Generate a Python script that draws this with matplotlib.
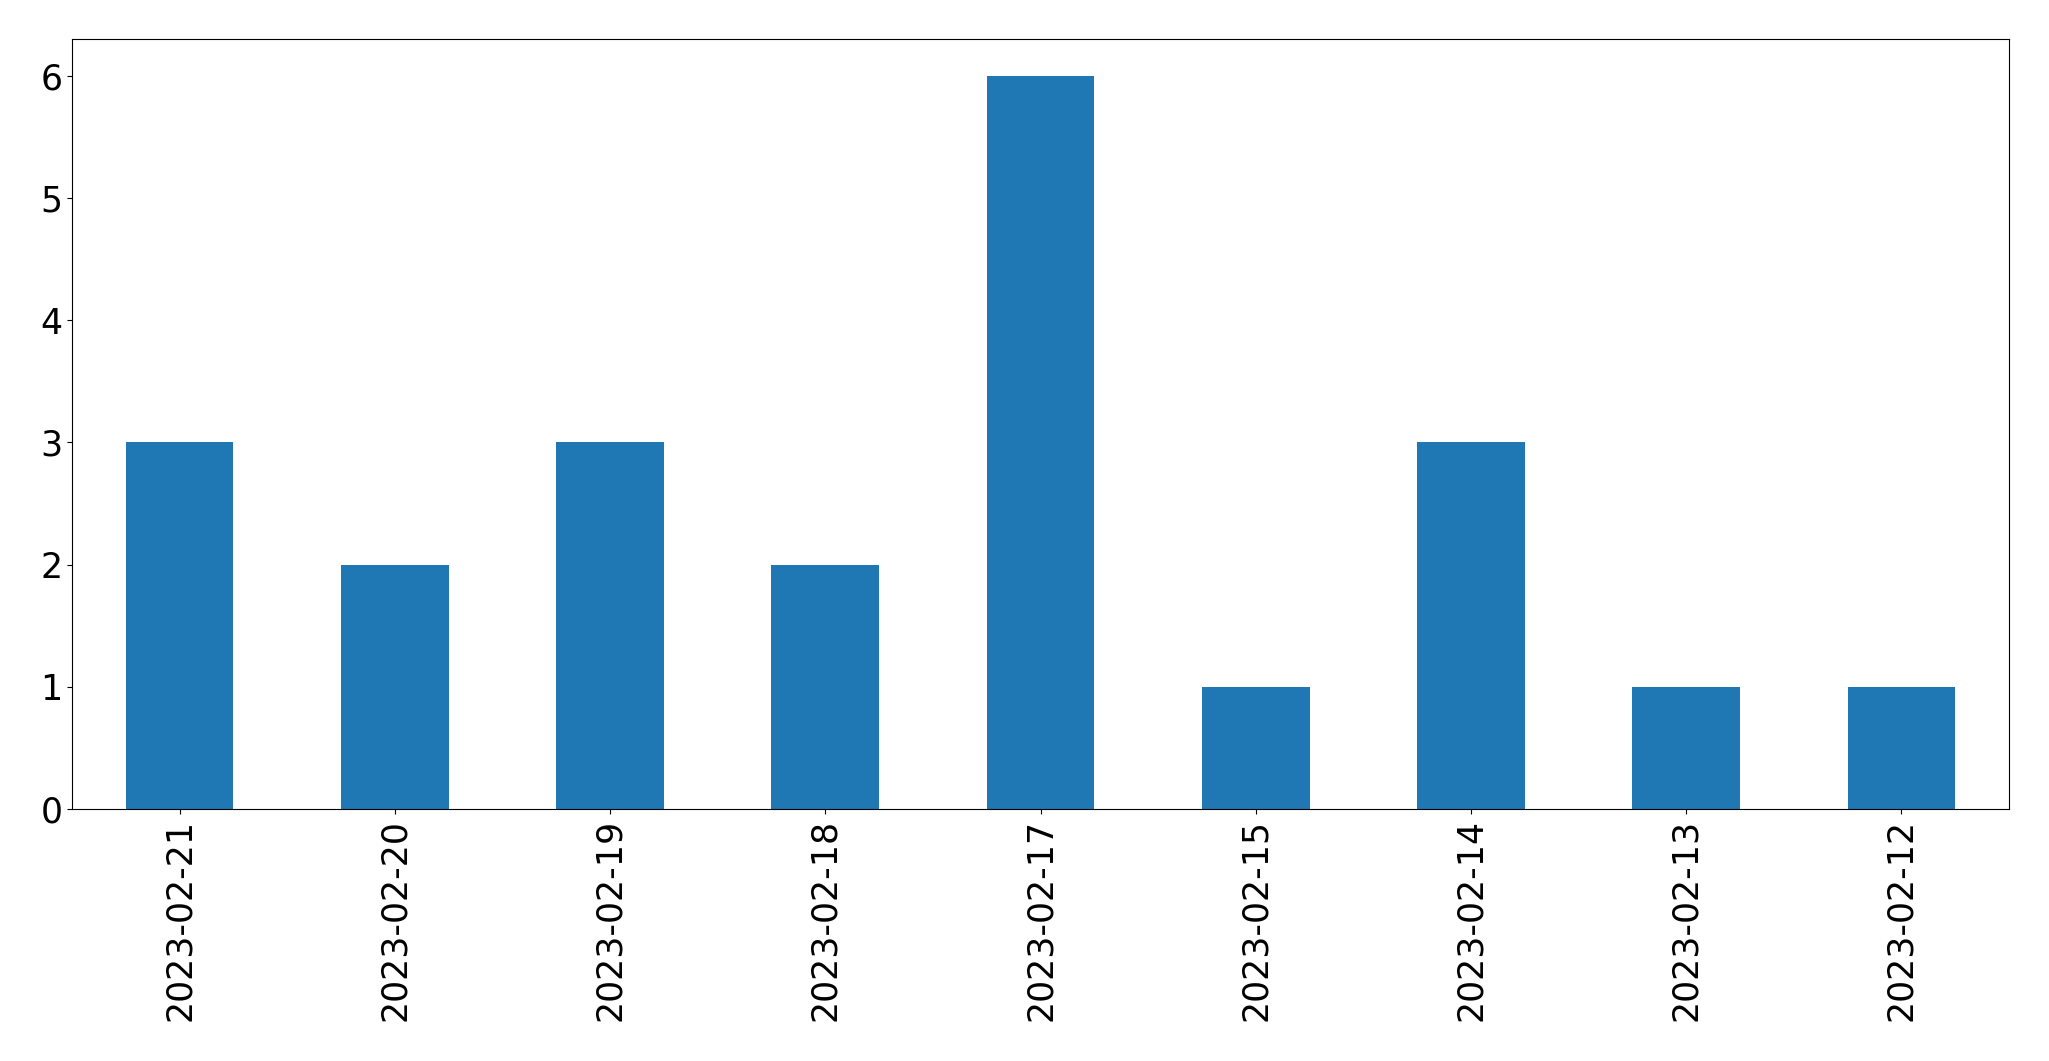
import matplotlib
matplotlib.use('Agg')
import matplotlib.pyplot as plt
import pandas as pd

# counts per day, newest first (as in the source chart)
dates = ['2023-02-21', '2023-02-20', '2023-02-19', '2023-02-18', '2023-02-17',
         '2023-02-15', '2023-02-14', '2023-02-13', '2023-02-12']
counts = [3, 2, 3, 2, 6, 1, 3, 1, 1]

series = pd.Series(counts, index=dates)

fig = plt.figure(figsize=(20.49, 10.61), dpi=100)
ax = fig.add_axes([72 / 2049, 1 - 809 / 1061, 1937 / 2049, 770 / 1061])

series.plot.bar(ax=ax, color='#1f77b4')
ax.tick_params(axis='both', labelsize=25)

fig.savefig('out.png', dpi=100)
